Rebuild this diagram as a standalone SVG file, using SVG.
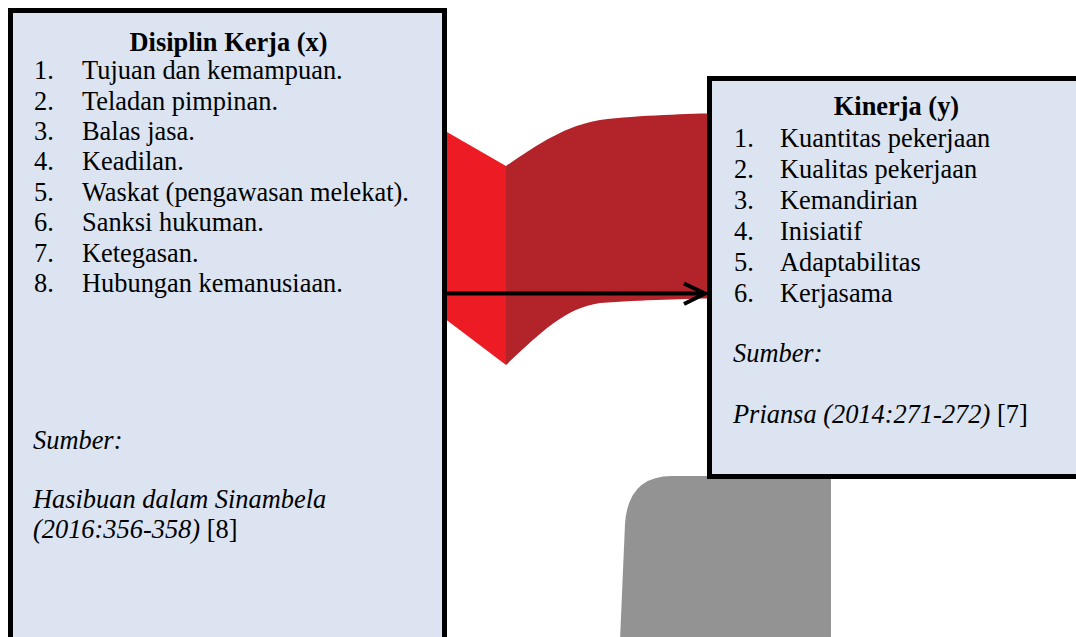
<svg xmlns="http://www.w3.org/2000/svg" width="1076" height="637" viewBox="0 0 1076 637">
<style>
.box{fill:#DBE4F0;stroke:#000;stroke-width:5}
.t{font-family:"Liberation Serif","Times New Roman",serif;font-size:26.4px;fill:#000}
.b{font-weight:bold}
.i{font-style:italic}
.conn{stroke:#000;stroke-width:4;fill:none}
</style>
<g id="background-shapes">
<path d="M440 128 L506 166 L506 365 L440 315 Z" fill="#ED1C24"/>
<path d="M506 166 C540 143 565 126 600 120 C640 115 690 114 720 113 L720 298 C690 299 640 300 600 303 C565 308 540 333 506 365 Z" fill="#B2232A"/>
<path d="M831 476 L672 476 Q628 476 625 524 L620 640 L831 640 Z" fill="#939394"/>
</g>
<g id="node-disiplin">
<rect class="box" x="10.5" y="10.5" width="434" height="700"/>
<text class="t b" x="228.5" y="50.5" text-anchor="middle">Disiplin Kerja (x)</text>
<text class="t" x="34" y="79">1.</text><text class="t" x="82" y="79">Tujuan dan kemampuan.</text>
<text class="t" x="34" y="109.5">2.</text><text class="t" x="82" y="109.5">Teladan pimpinan.</text>
<text class="t" x="34" y="140">3.</text><text class="t" x="82" y="140">Balas jasa.</text>
<text class="t" x="34" y="170">4.</text><text class="t" x="82" y="170">Keadilan.</text>
<text class="t" x="34" y="200.5">5.</text><text class="t" x="82" y="200.5">Waskat (pengawasan melekat).</text>
<text class="t" x="34" y="231">6.</text><text class="t" x="82" y="231">Sanksi hukuman.</text>
<text class="t" x="34" y="261.5">7.</text><text class="t" x="82" y="261.5">Ketegasan.</text>
<text class="t" x="34" y="292">8.</text><text class="t" x="82" y="292">Hubungan kemanusiaan.</text>
<text class="t i" x="33" y="449">Sumber:</text>
<text class="t i" x="33" y="508">Hasibuan dalam Sinambela</text>
<text class="t" x="33" y="538"><tspan class="i">(2016:356-358)</tspan> [8]</text>
</g>
<g id="node-kinerja">
<rect class="box" x="709.5" y="78.5" width="420" height="398"/>
<text class="t b" x="896.5" y="115" text-anchor="middle">Kinerja (y)</text>
<text class="t" x="734" y="146.5">1.</text><text class="t" x="780" y="146.5">Kuantitas pekerjaan</text>
<text class="t" x="734" y="177.5">2.</text><text class="t" x="780" y="177.5">Kualitas pekerjaan</text>
<text class="t" x="734" y="208.5">3.</text><text class="t" x="780" y="208.5">Kemandirian</text>
<text class="t" x="734" y="239.5">4.</text><text class="t" x="780" y="239.5">Inisiatif</text>
<text class="t" x="734" y="270.5">5.</text><text class="t" x="780" y="270.5">Adaptabilitas</text>
<text class="t" x="734" y="301.5">6.</text><text class="t" x="780" y="301.5">Kerjasama</text>
<text class="t i" x="733" y="362">Sumber:</text>
<text class="t" x="733" y="423"><tspan class="i">Priansa (2014:271-272)</tspan> [7]</text>
</g>
<g id="connectors">
<line class="conn" x1="447" y1="293.5" x2="704" y2="293.5"/>
<polyline class="conn" points="684,283.5 705,293.5 684,304"/>
</g>
</svg>
